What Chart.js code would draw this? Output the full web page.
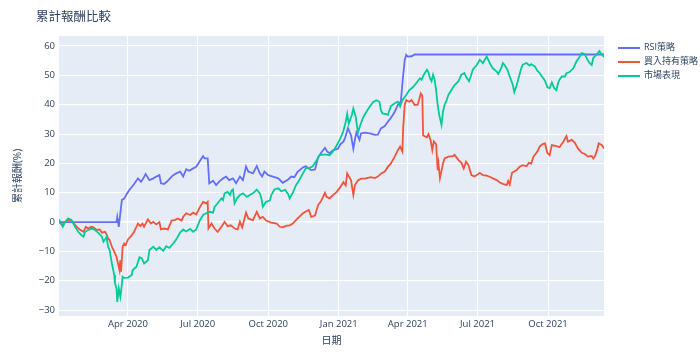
<!DOCTYPE html>
<html>
<head>
<meta charset="utf-8">
<script src="https://cdn.jsdelivr.net/npm/chart.js@4"></script>
<style>
  body { margin: 0; background: #fff; }
  #wrap { position: relative; width: 700px; height: 352px; font-family: 'Open Sans', 'Noto Sans CJK TC', sans-serif; color: #2a3f5f; }
  #title { position: absolute; left: 36px; top: 6px; font-size: 12.5px; white-space: nowrap; }
  .leg { position: absolute; left: 618px; font-size: 9px; line-height: 12px; white-space: nowrap; }
  .leg span.ln { display: inline-block; width: 22px; height: 2px; vertical-align: middle; margin-right: 4px; }
</style>
</head>
<body>
<div id="wrap">
  <canvas id="chart" width="700" height="352"></canvas>
  <div id="title">累計報酬比較</div>
  <div class="leg" style="top:41px"><span class="ln" style="background:#636efa"></span>RSI策略</div>
  <div class="leg" style="top:55px"><span class="ln" style="background:#EF553B"></span>買入持有策略</div>
  <div class="leg" style="top:69px"><span class="ln" style="background:#00cc96"></span>市場表現</div>
</div>
<script>
  const xTickDates = ["2020-04-01", "2020-07-01", "2020-10-01", "2021-01-01", "2021-04-01", "2021-07-01", "2021-10-01"];
  const yTicks = [-30, -20, -10, 0, 10, 20, 30, 40, 50, 60];

  const rsiDates = [
    "2020-01-02", "2020-03-17", "2020-03-18", "2020-03-19", "2020-03-20", "2020-03-24", "2020-03-27", "2020-03-31",
    "2020-04-03", "2020-04-07", "2020-04-09", "2020-04-14", "2020-04-18", "2020-04-21", "2020-04-24", "2020-04-29",
    "2020-05-04", "2020-05-08", "2020-05-12", "2020-05-14", "2020-05-18", "2020-05-22", "2020-05-28", "2020-05-30",
    "2020-06-03", "2020-06-08", "2020-06-12", "2020-06-16", "2020-06-20", "2020-06-25", "2020-06-29", "2020-07-04",
    "2020-07-08", "2020-07-10", "2020-07-14", "2020-07-16", "2020-07-21", "2020-07-25", "2020-07-29", "2020-08-03",
    "2020-08-07", "2020-08-11", "2020-08-16", "2020-08-20", "2020-08-25", "2020-08-29", "2020-09-02", "2020-09-05",
    "2020-09-11", "2020-09-16", "2020-09-20", "2020-09-23", "2020-09-26", "2020-10-01", "2020-10-07", "2020-10-14",
    "2020-10-20", "2020-10-27", "2020-10-31", "2020-11-04", "2020-11-08", "2020-11-15", "2020-11-19", "2020-11-26",
    "2020-12-01", "2020-12-05", "2020-12-09", "2020-12-14", "2020-12-17", "2020-12-20", "2020-12-24", "2020-12-31",
    "2021-01-03", "2021-01-07", "2021-01-09", "2021-01-13", "2021-01-17", "2021-01-20", "2021-01-22", "2021-01-24",
    "2021-01-28", "2021-01-30", "2021-02-04", "2021-02-12", "2021-02-17", "2021-02-21", "2021-02-25", "2021-03-02",
    "2021-03-06", "2021-03-10", "2021-03-15", "2021-03-19", "2021-03-23", "2021-03-25", "2021-03-28", "2021-03-30",
    "2021-04-01", "2021-04-06", "2021-04-10", "2021-12-13"
  ];
  const rsiValues = [
    0, 0, 1.8, 0.2, -1.6, 7.5, 8, 9.8,
    11, 12.3, 13, 14.9, 13.7, 14.9, 16.4, 14.3,
    14.9, 15.5, 16, 13.2, 13, 13.8, 15.5, 16,
    16.6, 17.2, 15.5, 18, 17.5, 18.3, 18.8, 20.9,
    22.5, 21.7, 21.7, 13.2, 14.1, 12.6, 13.8, 14.9,
    15.5, 14.3, 14.9, 13.2, 15.5, 14.3, 18.9, 17.2,
    16.6, 19.1, 16.6, 15.5, 17.2, 16, 15.5, 14.9,
    13.4, 14.5, 15.5, 15.3, 17, 18.6, 19, 17.7,
    17.9, 22, 23.6, 25.3, 24, 23.5, 24.4, 25,
    26.5, 27.4, 28.5, 32, 29.5, 25, 28, 30.5,
    28, 30.2, 30.5, 30.1, 29.7, 29.8, 31.9, 32.7,
    34.2, 35.5, 37.6, 39.9, 41, 47.3, 55.2, 57,
    56.4, 56.5, 57.1, 57.1
  ];

  const holdDates = [
    "2020-01-02", "2020-01-06", "2020-01-10", "2020-01-14", "2020-01-18", "2020-01-21", "2020-01-25", "2020-01-29",
    "2020-02-03", "2020-02-06", "2020-02-09", "2020-02-13", "2020-02-16", "2020-02-20", "2020-02-24", "2020-02-27",
    "2020-03-02", "2020-03-04", "2020-03-06", "2020-03-08", "2020-03-11", "2020-03-14", "2020-03-17", "2020-03-19",
    "2020-03-21", "2020-03-22", "2020-03-23", "2020-03-25", "2020-03-27", "2020-03-29", "2020-04-01", "2020-04-05",
    "2020-04-09", "2020-04-12", "2020-04-14", "2020-04-17", "2020-04-20", "2020-04-22", "2020-04-27", "2020-05-01",
    "2020-05-04", "2020-05-08", "2020-05-12", "2020-05-14", "2020-05-18", "2020-05-23", "2020-05-28", "2020-06-01",
    "2020-06-05", "2020-06-10", "2020-06-12", "2020-06-16", "2020-06-21", "2020-06-25", "2020-06-29", "2020-07-04",
    "2020-07-08", "2020-07-12", "2020-07-14", "2020-07-15", "2020-07-19", "2020-07-23", "2020-07-27", "2020-08-01",
    "2020-08-05", "2020-08-09", "2020-08-13", "2020-08-18", "2020-08-22", "2020-08-25", "2020-08-28", "2020-09-02",
    "2020-09-05", "2020-09-11", "2020-09-16", "2020-09-20", "2020-09-24", "2020-09-28", "2020-10-05", "2020-10-12",
    "2020-10-16", "2020-10-20", "2020-10-24", "2020-10-29", "2020-11-02", "2020-11-08", "2020-11-15", "2020-11-19",
    "2020-11-23", "2020-11-26", "2020-12-01", "2020-12-05", "2020-12-09", "2020-12-14", "2020-12-16", "2020-12-20",
    "2020-12-24", "2020-12-29", "2021-01-03", "2021-01-07", "2021-01-10", "2021-01-12", "2021-01-17", "2021-01-20",
    "2021-01-22", "2021-01-26", "2021-01-30", "2021-02-04", "2021-02-12", "2021-02-17", "2021-02-21", "2021-02-25",
    "2021-03-02", "2021-03-06", "2021-03-10", "2021-03-15", "2021-03-19", "2021-03-22", "2021-03-25", "2021-03-26",
    "2021-03-28", "2021-03-30", "2021-04-03", "2021-04-06", "2021-04-10", "2021-04-14", "2021-04-18", "2021-04-20",
    "2021-04-21", "2021-04-26", "2021-04-28", "2021-05-01", "2021-05-03", "2021-05-05", "2021-05-08", "2021-05-10",
    "2021-05-11", "2021-05-13", "2021-05-17", "2021-05-19", "2021-05-24", "2021-05-30", "2021-06-01", "2021-06-06",
    "2021-06-10", "2021-06-13", "2021-06-16", "2021-06-19", "2021-06-23", "2021-06-27", "2021-06-30", "2021-07-04",
    "2021-07-08", "2021-07-13", "2021-07-19", "2021-07-21", "2021-07-26", "2021-07-30", "2021-08-03", "2021-08-08",
    "2021-08-10", "2021-08-12", "2021-08-15", "2021-08-21", "2021-08-25", "2021-08-29", "2021-09-03", "2021-09-06",
    "2021-09-09", "2021-09-12", "2021-09-17", "2021-09-20", "2021-09-24", "2021-09-27", "2021-09-30", "2021-10-03",
    "2021-10-06", "2021-10-12", "2021-10-16", "2021-10-21", "2021-10-25", "2021-10-27", "2021-11-01", "2021-11-05",
    "2021-11-09", "2021-11-14", "2021-11-18", "2021-11-22", "2021-11-27", "2021-11-29", "2021-12-01", "2021-12-04",
    "2021-12-06", "2021-12-10", "2021-12-13"
  ];
  const holdValues = [
    0, -1, 0, 0.7, 0.7, -0.3, -1.6, -2.5,
    -3.3, -1.6, -2.2, -1.6, -1.8, -2.7, -2.5, -3.6,
    -3.3, -4.1, -5.6, -6.1, -8.4, -10.1, -11.8, -14.1,
    -16.4, -13, -16.9, -8.4, -7.3, -7.8, -5.9, -4.8,
    -3.3, -1.6, -0.5, -1.4, -0.5, -1.6, 0.9, -0.5,
    0.1, -0.8, 0, -2.5, -2.2, -2.5, 0.5, 0.7,
    1.25, 0.5, 1.8, 3, 2.4, 3.2, 2.6, 5.2,
    6.9, 6.4, 6.9, -2.2, -0.5, -2.2, -3.3, -1.6,
    0.1, -1.4, -1.1, -2.2, -2.5, 0.1, -1.8, 3.2,
    1.25, 0.7, 3.5, 1.25, 1.8, 0.5, -0.2, -0.5,
    -1.6, -1.8, -1.3, -1.1, -0.5, 1.2, 2.9, 3.6,
    4.1, 1.8, 2.2, 5.8, 7.2, 10, 8.6, 8.1,
    9.1, 10.2, 11.9, 13.6, 12.5, 16.6, 14.2, 9.3,
    12.5, 14.2, 14.8, 14.8, 15.3, 15, 15.5, 16.5,
    17.2, 18.8, 20, 22.3, 24.5, 25.7, 24, 32,
    39.9, 41.6, 41, 41.6, 39.9, 40, 43.8, 43,
    29.5, 28.9, 30, 27.7, 24.5, 27.5, 26.5, 17.7,
    20, 15, 20, 21.7, 22.3, 22.5, 22.9, 21.2,
    20.2, 18.3, 20.6, 19.5, 16, 15.5, 16, 16.8,
    16, 15.8, 15.2, 14.9, 14.3, 13.5, 13, 12.6,
    14, 12.8, 16.8, 17.7, 18.9, 19.4, 19, 20.2,
    19.9, 22.3, 24, 25.7, 26.6, 26.8, 23.6, 22.8,
    26.25, 25.9, 25.5, 27.4, 29.3, 27.4, 28, 27,
    25.1, 23.6, 23.2, 22.3, 22.5, 21.7, 22.3, 24.5,
    26.8, 26.25, 25.1
  ];

  const marketDates = [
    "2020-01-02", "2020-01-05", "2020-01-07", "2020-01-10", "2020-01-14", "2020-01-18", "2020-01-23", "2020-01-27",
    "2020-01-31", "2020-02-03", "2020-02-05", "2020-02-09", "2020-02-14", "2020-02-18", "2020-02-22", "2020-02-27",
    "2020-02-29", "2020-03-02", "2020-03-04", "2020-03-06", "2020-03-08", "2020-03-11", "2020-03-14", "2020-03-15",
    "2020-03-17", "2020-03-18", "2020-03-20", "2020-03-22", "2020-03-23", "2020-03-25", "2020-03-27", "2020-04-01",
    "2020-04-06", "2020-04-07", "2020-04-12", "2020-04-16", "2020-04-19", "2020-04-22", "2020-04-27", "2020-04-29",
    "2020-05-04", "2020-05-08", "2020-05-12", "2020-05-17", "2020-05-21", "2020-05-25", "2020-05-30", "2020-06-03",
    "2020-06-08", "2020-06-12", "2020-06-16", "2020-06-21", "2020-06-25", "2020-06-29", "2020-07-04", "2020-07-08",
    "2020-07-12", "2020-07-16", "2020-07-21", "2020-07-23", "2020-07-27", "2020-08-01", "2020-08-03", "2020-08-05",
    "2020-08-09", "2020-08-12", "2020-08-14", "2020-08-16", "2020-08-18", "2020-08-21", "2020-08-25", "2020-08-29",
    "2020-09-03", "2020-09-07", "2020-09-11", "2020-09-16", "2020-09-20", "2020-09-22", "2020-09-24", "2020-09-28",
    "2020-10-03", "2020-10-05", "2020-10-09", "2020-10-14", "2020-10-18", "2020-10-23", "2020-10-27", "2020-10-29",
    "2020-11-02", "2020-11-06", "2020-11-11", "2020-11-15", "2020-11-19", "2020-11-24", "2020-11-28", "2020-12-03",
    "2020-12-07", "2020-12-11", "2020-12-16", "2020-12-20", "2020-12-24", "2020-12-29", "2021-01-03", "2021-01-07",
    "2021-01-10", "2021-01-12", "2021-01-14", "2021-01-18", "2021-01-20", "2021-01-23", "2021-01-26", "2021-01-29",
    "2021-02-02", "2021-02-06", "2021-02-10", "2021-02-15", "2021-02-19", "2021-02-23", "2021-02-25", "2021-02-27",
    "2021-03-04", "2021-03-06", "2021-03-10", "2021-03-15", "2021-03-19", "2021-03-22", "2021-03-25", "2021-03-30",
    "2021-04-03", "2021-04-08", "2021-04-12", "2021-04-17", "2021-04-19", "2021-04-22", "2021-04-26", "2021-04-28",
    "2021-04-30", "2021-05-02", "2021-05-04", "2021-05-06", "2021-05-08", "2021-05-10", "2021-05-12", "2021-05-15",
    "2021-05-17", "2021-05-19", "2021-05-21", "2021-05-24", "2021-05-28", "2021-06-01", "2021-06-06", "2021-06-10",
    "2021-06-14", "2021-06-16", "2021-06-20", "2021-06-25", "2021-06-30", "2021-07-04", "2021-07-08", "2021-07-13",
    "2021-07-18", "2021-07-21", "2021-07-26", "2021-07-28", "2021-08-01", "2021-08-03", "2021-08-05", "2021-08-09",
    "2021-08-12", "2021-08-16", "2021-08-18", "2021-08-21", "2021-08-23", "2021-08-27", "2021-08-29", "2021-09-03",
    "2021-09-07", "2021-09-09", "2021-09-14", "2021-09-17", "2021-09-20", "2021-09-23", "2021-09-27", "2021-09-30",
    "2021-10-03", "2021-10-06", "2021-10-09", "2021-10-12", "2021-10-14", "2021-10-16", "2021-10-19", "2021-10-23",
    "2021-10-25", "2021-10-29", "2021-11-03", "2021-11-07", "2021-11-11", "2021-11-14", "2021-11-18", "2021-11-21",
    "2021-11-24", "2021-11-27", "2021-11-29", "2021-12-03", "2021-12-07", "2021-12-10", "2021-12-13"
  ];
  const marketValues = [
    0.9, -0.5, -1.6, 0, 1.25, 0.7, -1.6, -3.3,
    -4.4, -5, -3.3, -2.7, -2.2, -2.7, -3.6, -5,
    -6.7, -5.9, -5, -8.4, -9.5, -14.1, -18, -20.9,
    -22.6, -27.2, -22.6, -25.5, -23.5, -18.6, -19, -18.9,
    -18, -16.4, -15.2, -12, -12.3, -14.1, -13, -9.5,
    -8.4, -9.5, -8.6, -9.8, -8.2, -8.8, -7.3, -5.9,
    -3.6, -2.5, -3.2, -2.3, -3.3, -2.5, 0.7, 2.4,
    3, 3.5, 3.2, 5.2, 6.4, 8.1, 7.5, 9.8,
    10.3, 9.2, 10.7, 11.1, 6.4, 8, 9.2, 9.8,
    8.6, 9.2, 9.8, 11.1, 9.8, 8.1, 5.2, 6.9,
    7.3, 9.2, 11.1, 11.5, 10.5, 11, 9.5, 8,
    10, 12.5, 14.5, 16.5, 18.3, 18.5, 19, 21,
    22.8, 23, 23, 22.8, 23.9, 26, 28.4, 31,
    34.1, 36.9, 33.5, 36.5, 38.7, 36, 30.5, 33,
    35.8, 37.5, 39.2, 40.9, 41.5, 41, 38.1, 37,
    36.8, 36.5, 39.5, 40.5, 41, 39.3, 41.5, 43.3,
    45, 46, 47.3, 49, 48.5, 50.2, 51.9, 51,
    49, 48, 50.2, 48.5, 45, 39.9, 36.5, 33.1,
    37.7, 39.9, 41, 43.3, 45, 46.7, 47.9, 50.2,
    50.8, 49.5, 48, 52, 53.5, 55.3, 54.1, 56.4,
    53.6, 52.4, 51.3, 50.5, 52.5, 54.2, 53.6, 51.9,
    49.6, 46.8, 44.3, 46.5, 48.5, 52.4, 53.6, 54.2,
    53.3, 53.8, 53, 51.6, 50.8, 49.6, 48.2, 46,
    45.6, 47.6, 45.6, 44.9, 47.3, 48.5, 49.6, 49.6,
    50.7, 51.1, 52.4, 54.7, 56.2, 57.6, 57.2, 55.5,
    54.2, 53.5, 55.9, 57, 58.3, 57.2, 56.3
  ];

  const toPoints = (dates, values) => dates.map((d, i) => ({ x: Date.parse(d), y: values[i] }));
  const monthNames = ["Jan", "Feb", "Mar", "Apr", "May", "Jun", "Jul", "Aug", "Sep", "Oct", "Nov", "Dec"];
  const fontFamily = "'Open Sans', 'Noto Sans CJK TC', sans-serif";
  const textColor = '#2a3f5f';

  // plot background like plotly
  const plotBg = {
    id: 'plotBg',
    beforeDraw(chart) {
      const { ctx, chartArea: a } = chart;
      ctx.save();
      ctx.fillStyle = '#E5ECF6';
      ctx.fillRect(a.left, a.top, a.right - a.left, a.bottom - a.top);
      ctx.restore();
    }
  };

  new Chart(document.getElementById('chart').getContext('2d'), {
    type: 'line',
    data: {
      datasets: [
        { label: 'RSI策略', data: toPoints(rsiDates, rsiValues), borderColor: '#636efa', order: 3 },
        { label: '買入持有策略', data: toPoints(holdDates, holdValues), borderColor: '#EF553B', order: 2 },
        { label: '市場表現', data: toPoints(marketDates, marketValues), borderColor: '#00cc96', order: 1 }
      ]
    },
    options: {
      responsive: false,
      animation: false,
      layout: { padding: { top: 36, right: 96, left: 0, bottom: 0 } },
      elements: {
        point: { radius: 0 },
        line: { borderWidth: 1.8, tension: 0 }
      },
      plugins: {
        legend: { display: false },
        tooltip: { enabled: false }
      },
      scales: {
        x: {
          type: 'linear',
          min: Date.parse('2020-01-02'),
          max: Date.parse('2021-12-13'),
          afterFit(scale) { scale.height = 36; },
          afterBuildTicks(scale) { scale.ticks = xTickDates.map(d => ({ value: Date.parse(d) })); },
          ticks: {
            autoSkip: false,
            maxRotation: 0,
            padding: 3,
            color: textColor,
            font: { family: fontFamily, size: 9.5 },
            callback(v) {
              const d = new Date(v);
              return monthNames[d.getUTCMonth()] + ' ' + d.getUTCFullYear();
            }
          },
          grid: { color: '#ffffff', lineWidth: 1, drawTicks: false },
          border: { display: false },
          title: { display: true, text: '日期', color: textColor, font: { family: fontFamily, size: 10 }, padding: { top: 0, bottom: 5 } }
        },
        y: {
          min: -32,
          max: 63.4,
          afterFit(scale) { scale.width = 59; },
          afterBuildTicks(scale) { scale.ticks = yTicks.map(v => ({ value: v })); },
          ticks: {
            padding: 4,
            color: textColor,
            font: { family: fontFamily, size: 9.5 },
            callback: v => String(v).replace('-', '\u2212')
          },
          grid: {
            color: '#ffffff',
            lineWidth: c => (c.tick && c.tick.value === 0 ? 1.5 : 1),
            drawTicks: false
          },
          border: { display: false },
          title: { display: true, text: '累計報酬(%)', color: textColor, font: { family: fontFamily, size: 10 }, padding: { top: 12, bottom: 0 } }
        }
      }
    },
    plugins: [plotBg]
  });
</script>
</body>
</html>
